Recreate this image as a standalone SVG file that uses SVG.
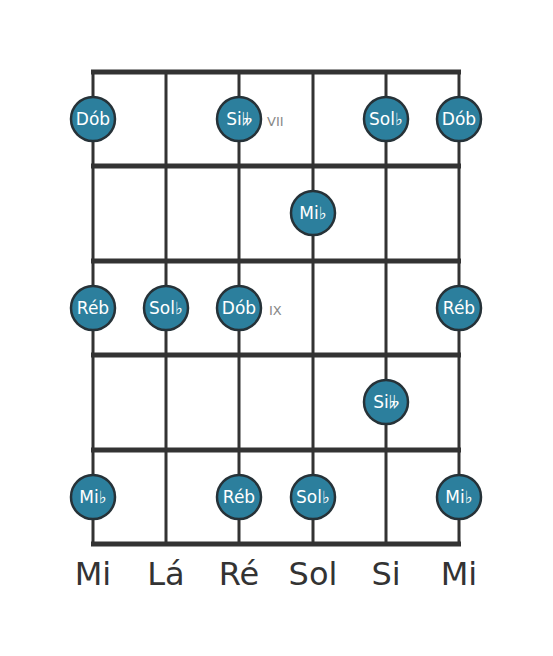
<svg xmlns="http://www.w3.org/2000/svg" width="553" height="656" viewBox="0 0 553 656">
<style>
.str{stroke:#333;stroke-width:3;fill:none}
.fret{stroke:#333;stroke-width:5;fill:none}
.note circle{fill:#2c7f9d;stroke:#263238;stroke-width:2.5}
.note text{fill:#fff;font-family:"DejaVu Sans",sans-serif;font-size:17px;text-anchor:middle;dominant-baseline:central}
.pos{fill:#888;font-family:"DejaVu Sans",sans-serif;font-size:13px;dominant-baseline:central}
.lab{fill:#333;font-family:"DejaVu Sans",sans-serif;font-size:32px;text-anchor:middle}
</style>
<rect width="553" height="656" fill="#fff"/>
<g id="connectors">
<line class="str" x1="93" y1="72" x2="93" y2="544"/>
<line class="str" x1="166" y1="72" x2="166" y2="544"/>
<line class="str" x1="239" y1="72" x2="239" y2="544"/>
<line class="str" x1="313" y1="72" x2="313" y2="544"/>
<line class="str" x1="386" y1="72" x2="386" y2="544"/>
<line class="str" x1="459" y1="72" x2="459" y2="544"/>
<line class="fret" x1="91" y1="72" x2="461" y2="72"/>
<line class="fret" x1="91" y1="166" x2="461" y2="166"/>
<line class="fret" x1="91" y1="261" x2="461" y2="261"/>
<line class="fret" x1="91" y1="355" x2="461" y2="355"/>
<line class="fret" x1="91" y1="450" x2="461" y2="450"/>
<line class="fret" x1="91" y1="544" x2="461" y2="544"/>
</g>
<g id="n1" class="note"><circle cx="93" cy="119" r="22"/><text x="93" y="119">Dób</text></g>
<g id="n2" class="note"><circle cx="239" cy="119" r="22"/><text x="239" y="119">Si𝄫</text></g>
<g id="n3" class="note"><circle cx="386" cy="119" r="22"/><text x="386" y="119">Sol♭</text></g>
<g id="n4" class="note"><circle cx="459" cy="119" r="22"/><text x="459" y="119">Dób</text></g>
<g id="n5" class="note"><circle cx="313" cy="213" r="22"/><text x="313" y="213">Mi♭</text></g>
<g id="n6" class="note"><circle cx="93" cy="308" r="22"/><text x="93" y="308">Réb</text></g>
<g id="n7" class="note"><circle cx="166" cy="308" r="22"/><text x="166" y="308">Sol♭</text></g>
<g id="n8" class="note"><circle cx="239" cy="308" r="22"/><text x="239" y="308">Dób</text></g>
<g id="n9" class="note"><circle cx="459" cy="308" r="22"/><text x="459" y="308">Réb</text></g>
<g id="n10" class="note"><circle cx="386" cy="402" r="22"/><text x="386" y="402">Si𝄫</text></g>
<g id="n11" class="note"><circle cx="93" cy="497" r="22"/><text x="93" y="497">Mi♭</text></g>
<g id="n12" class="note"><circle cx="239" cy="497" r="22"/><text x="239" y="497">Réb</text></g>
<g id="n13" class="note"><circle cx="313" cy="497" r="22"/><text x="313" y="497">Sol♭</text></g>
<g id="n14" class="note"><circle cx="459" cy="497" r="22"/><text x="459" y="497">Mi♭</text></g>
<g id="positions">
<text class="pos" x="267" y="121">VII</text>
<text class="pos" x="269" y="310">IX</text>
</g>
<g id="labels">
<text class="lab" x="93" y="585">Mi</text>
<text class="lab" x="166" y="585">Lá</text>
<text class="lab" x="239" y="585">Ré</text>
<text class="lab" x="313" y="585">Sol</text>
<text class="lab" x="386" y="585">Si</text>
<text class="lab" x="459" y="585">Mi</text>
</g>
</svg>
